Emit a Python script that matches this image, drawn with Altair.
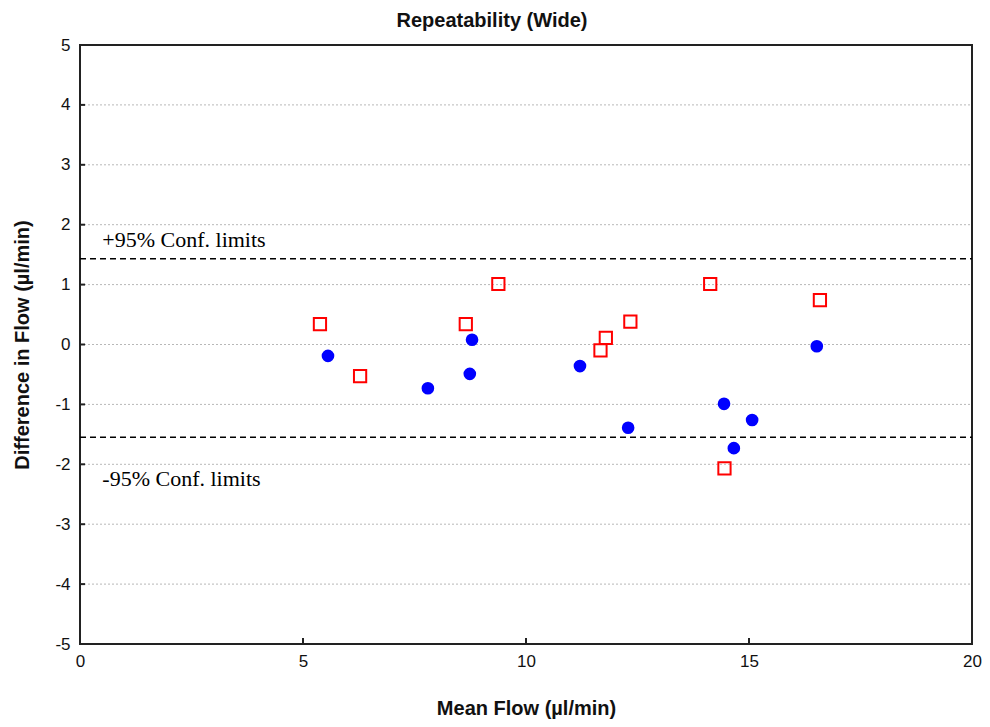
import altair as alt
import pandas as pd

# Blue filled circles
circle_x = [5.56, 7.80, 8.74, 8.79, 11.21, 12.29, 14.44, 14.66, 15.07, 16.52]
circle_y = [-0.19, -0.73, -0.49, 0.08, -0.36, -1.39, -0.99, -1.73, -1.26, -0.03]

# Red open squares
square_x = [5.38, 6.28, 8.65, 9.38, 11.67, 11.79, 12.34, 14.13, 14.45, 16.59]
square_y = [0.34, -0.53, 0.34, 1.01, -0.10, 0.11, 0.38, 1.01, -2.07, 0.74]

# 95% confidence limits
limit_values = [1.43, -1.55]
limit_labels = ["+95% Conf. limits", "-95% Conf. limits"]
label_x = [0.5, 0.5]
label_y = [1.63, -2.36]

x_ticks = [0, 5, 10, 15, 20]
y_ticks = [-5, -4, -3, -2, -1, 0, 1, 2, 3, 4, 5]
inner_x_ticks = [5, 10, 15]
inner_y_ticks = [-4, -3, -2, -1, 0, 1, 2, 3, 4]

circles = pd.DataFrame({"x": circle_x, "y": circle_y})
squares = pd.DataFrame({"x": square_x, "y": square_y})
limits = pd.DataFrame({"y": limit_values})
labels = pd.DataFrame({"x": label_x, "y": label_y, "t": limit_labels})
grid = pd.DataFrame({"y": inner_y_ticks})
xt = pd.DataFrame({"x": inner_x_ticks})

XS = alt.Scale(domain=[0, 20], nice=False, zero=False)
YS = alt.Scale(domain=[-5, 5], nice=False, zero=False)

label_font = "Liberation Sans"

x_axis = alt.Axis(
    values=x_ticks, format="d", title="Mean Flow (µl/min)", grid=False, tickSize=0,
    domain=False, labelFlush=False, labelFont=label_font, labelFontSize=17,
    labelColor="#111", labelPadding=9, titleFont=label_font, titleFontSize=20,
    titleFontWeight="bold", titleColor="#111", titleY=70, titleBaseline="alphabetic",
)
y_axis = alt.Axis(
    values=y_ticks, format="d", labelExpr="replace(datum.label, '\u2212', '-')",
    title="Difference in Flow (µl/min)", grid=False,
    tickSize=0, domain=False, labelFlush=False, labelFont=label_font,
    labelFontSize=17, labelColor="#111", labelPadding=10, titleFont=label_font,
    titleFontSize=20, titleFontWeight="bold", titleColor="#111", titleAngle=-90,
    titleX=-58, titleY=299.5, titleAlign="center", titleBaseline="middle",
)

gridlines = alt.Chart(grid).mark_rule(
    color="#b8b8b8", strokeDash=[2, 2], strokeWidth=1
).encode(
    y=alt.Y("y:Q", scale=YS, axis=y_axis),
    x=alt.value(0), x2=alt.value(892),
)

ytick_marks = alt.Chart(grid).mark_rule(color="#222", strokeWidth=2).encode(
    y=alt.Y("y:Q", scale=YS), x=alt.value(0), x2=alt.value(5),
)

xtick_marks = alt.Chart(xt).mark_rule(color="#222", strokeWidth=2).encode(
    x=alt.X("x:Q", scale=XS, axis=x_axis), y=alt.value(599), y2=alt.value(593),
)

limit_lines = alt.Chart(limits).mark_rule(
    color="black", strokeDash=[6, 4], strokeWidth=1.5
).encode(
    y=alt.Y("y:Q", scale=YS), x=alt.value(0), x2=alt.value(892),
)

limit_text = alt.Chart(labels).mark_text(
    font="Liberation Serif", fontSize=22, align="left", baseline="alphabetic",
    color="black",
).encode(
    x=alt.X("x:Q", scale=XS), y=alt.Y("y:Q", scale=YS), text="t:N",
)

sq = alt.Chart(squares).mark_point(
    shape="square", filled=False, color="#ff0000", strokeWidth=2, size=150, opacity=1,
).encode(x=alt.X("x:Q", scale=XS), y=alt.Y("y:Q", scale=YS))

ci = alt.Chart(circles).mark_point(
    shape="circle", filled=True, color="#0000ff", size=160, opacity=1,
).encode(x=alt.X("x:Q", scale=XS), y=alt.Y("y:Q", scale=YS))

chart = alt.layer(
    gridlines, ytick_marks, xtick_marks, limit_lines, limit_text, sq, ci
).properties(
    width=892, height=599,
    background="white",
    title=alt.TitleParams(
        "Repeatability (Wide)", font=label_font, fontSize=20, fontWeight="bold",
        color="#111", anchor="middle", dx=-34, offset=5,
    ),
    autosize=alt.AutoSizeParams(type="none"),
    padding={"left": 72, "top": 37, "right": 10, "bottom": 75},
).configure_view(
    stroke="#222", strokeWidth=2
)

chart.save("out.html", embed_options={"renderer": "svg", "actions": False})
